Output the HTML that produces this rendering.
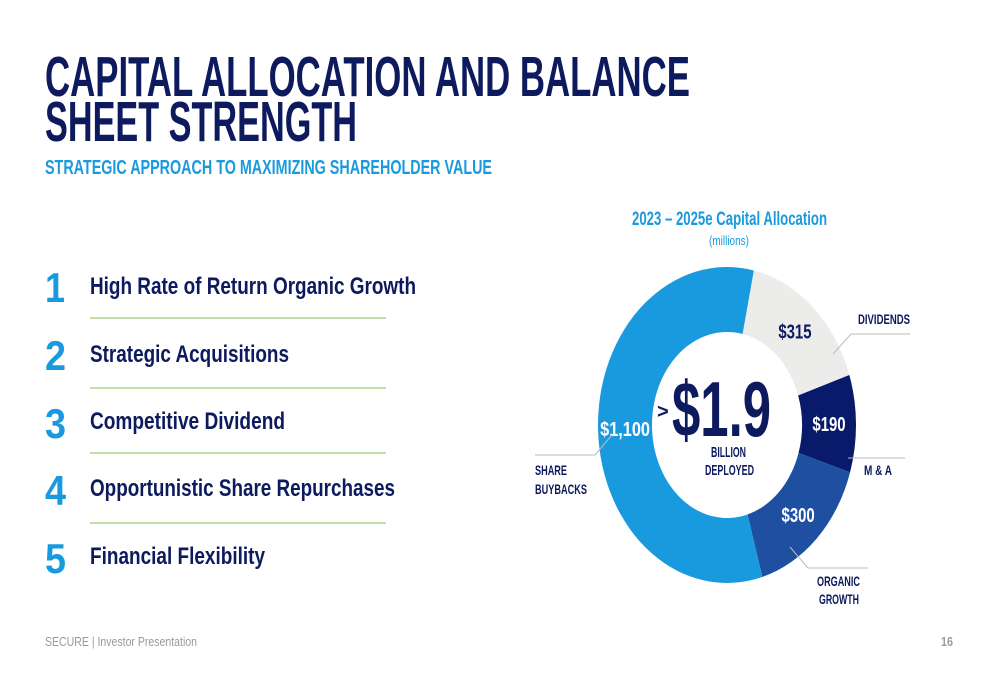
<!DOCTYPE html>
<html><head><meta charset="utf-8"><style>
html,body{margin:0;padding:0;background:#fff;}
svg{display:block;font-family:"Liberation Sans Narrow","Liberation Sans",sans-serif;}
</style></head><body>
<svg width="1000" height="685" viewBox="0 0 1000 685">
<g fill="#0d1a5e" font-weight="bold" font-size="57">
<text x="45" y="96" textLength="645" lengthAdjust="spacingAndGlyphs">CAPITAL ALLOCATION AND BALANCE</text>
<text x="45" y="141" textLength="312" lengthAdjust="spacingAndGlyphs">SHEET STRENGTH</text>
</g>
<text x="45" y="174" font-size="20" font-weight="bold" fill="#1a9ade" textLength="447" lengthAdjust="spacingAndGlyphs">STRATEGIC APPROACH TO MAXIMIZING SHAREHOLDER VALUE</text>

<g>
<g font-size="42" font-weight="bold" fill="#1a9ade">
<text x="45" y="302" textLength="20" lengthAdjust="spacingAndGlyphs">1</text>
<text x="45" y="370" textLength="21" lengthAdjust="spacingAndGlyphs">2</text>
<text x="45" y="438" textLength="21" lengthAdjust="spacingAndGlyphs">3</text>
<text x="45" y="505" textLength="21" lengthAdjust="spacingAndGlyphs">4</text>
<text x="45" y="573" textLength="21" lengthAdjust="spacingAndGlyphs">5</text>
</g>
<g font-size="24" font-weight="bold" fill="#0d1a5e">
<text x="90" y="294" textLength="326" lengthAdjust="spacingAndGlyphs">High Rate of Return Organic Growth</text>
<text x="90" y="362" textLength="199" lengthAdjust="spacingAndGlyphs">Strategic Acquisitions</text>
<text x="90" y="429" textLength="195" lengthAdjust="spacingAndGlyphs">Competitive Dividend</text>
<text x="90" y="496" textLength="305" lengthAdjust="spacingAndGlyphs">Opportunistic Share Repurchases</text>
<text x="90" y="564" textLength="175" lengthAdjust="spacingAndGlyphs">Financial Flexibility</text>
</g>
<g stroke="#a8d58e" stroke-width="1.5">
<line x1="90" y1="318" x2="386" y2="318"/>
<line x1="90" y1="388" x2="386" y2="388"/>
<line x1="90" y1="453" x2="386" y2="453"/>
<line x1="90" y1="523" x2="386" y2="523"/>
</g>
</g>

<text x="632" y="225" font-size="19" font-weight="bold" fill="#1a9ade" textLength="195" lengthAdjust="spacingAndGlyphs">2023 – 2025e Capital Allocation</text>
<text x="709" y="245" font-size="13" fill="#1a9ade" textLength="40" lengthAdjust="spacingAndGlyphs">(millions)</text>

<g id="donut"></g>

<g fill="#0d1a5e" font-weight="bold">
<text x="657" y="418" font-size="20">&gt;</text>
<text x="672" y="436" font-size="78" textLength="99" lengthAdjust="spacingAndGlyphs">$1.9</text>
<text x="711" y="457" font-size="15" textLength="35" lengthAdjust="spacingAndGlyphs">BILLION</text>
<text x="705" y="475" font-size="15" textLength="49" lengthAdjust="spacingAndGlyphs">DEPLOYED</text>
</g>

<g stroke="#bbb" stroke-width="1" fill="none">
<polyline points="910,334 851,334 833,354"/>
<polyline points="848,458 905,458"/>
<polyline points="790,547 808,568 868,568"/>
<polyline points="535,455 595,455 612,435"/>
</g>
<g fill="#0d1a5e" font-weight="bold" font-size="14">
<text x="858" y="324" textLength="52" lengthAdjust="spacingAndGlyphs">DIVIDENDS</text>
<text x="864" y="475" textLength="28" lengthAdjust="spacingAndGlyphs">M &amp; A</text>
<text x="817" y="586" textLength="43" lengthAdjust="spacingAndGlyphs">ORGANIC</text>
<text x="819" y="604" textLength="40" lengthAdjust="spacingAndGlyphs">GROWTH</text>
<text x="535" y="475" textLength="32" lengthAdjust="spacingAndGlyphs">SHARE</text>
<text x="535" y="494" textLength="52" lengthAdjust="spacingAndGlyphs">BUYBACKS</text>
</g>

<text x="45" y="646" font-size="13" fill="#9a9a9a" textLength="152" lengthAdjust="spacingAndGlyphs">SECURE  |  Investor Presentation</text>
<text x="941" y="646" font-size="13" font-weight="bold" fill="#9a9a9a" textLength="12" lengthAdjust="spacingAndGlyphs">16</text>
</svg>
<script>
const categories = ["Dividends", "M&A", "Organic Growth", "Share Buybacks"];
const values = [315, 190, 300, 1100];
const valueLabels = ["$315", "$190", "$300", "$1,100"];
const colors = ["#ececea", "#0a1a6b", "#1e4fa0", "#1a9ade"];
const labelColors = ["#0d1a5e", "#fff", "#fff", "#fff"];
(function(){
  const ns = "http://www.w3.org/2000/svg";
  const g = document.getElementById("donut");
  const cx = 727, cy = 425, rx = 129, ry = 158, irx = 75, iry = 93;
  const start = 12 * Math.PI / 180;
  const total = values.reduce((a, b) => a + b, 0);
  const pt = (a, X, Y) => [cx + X * Math.sin(a), cy - Y * Math.cos(a)];
  let a0 = start;
  values.forEach((v, i) => {
    const a1 = a0 + v / total * 2 * Math.PI;
    const large = (a1 - a0) > Math.PI ? 1 : 0;
    const p0 = pt(a0, rx, ry), p1 = pt(a1, rx, ry), q1 = pt(a1, irx, iry), q0 = pt(a0, irx, iry);
    const path = document.createElementNS(ns, "path");
    path.setAttribute("d", `M${p0[0]},${p0[1]} A${rx},${ry} 0 ${large} 1 ${p1[0]},${p1[1]} L${q1[0]},${q1[1]} A${irx},${iry} 0 ${large} 0 ${q0[0]},${q0[1]} Z`);
    path.setAttribute("fill", colors[i]);
    
    
    g.appendChild(path);
    const mid = (a0 + a1) / 2;
    const lp = pt(mid, (rx + irx) / 2, (ry + iry) / 2);
    const t = document.createElementNS(ns, "text");
    const w = valueLabels[i].length * 8.3;
    t.setAttribute("x", lp[0] - w / 2);
    t.setAttribute("y", lp[1] + 7);
    t.setAttribute("textLength", w);
    t.setAttribute("lengthAdjust", "spacingAndGlyphs");
    t.setAttribute("font-size", "20");
    t.setAttribute("font-weight", "bold");
    t.setAttribute("fill", labelColors[i]);
    t.textContent = valueLabels[i];
    
    
    g.appendChild(t);
    a0 = a1;
  });
})();
</script>
</body></html>
